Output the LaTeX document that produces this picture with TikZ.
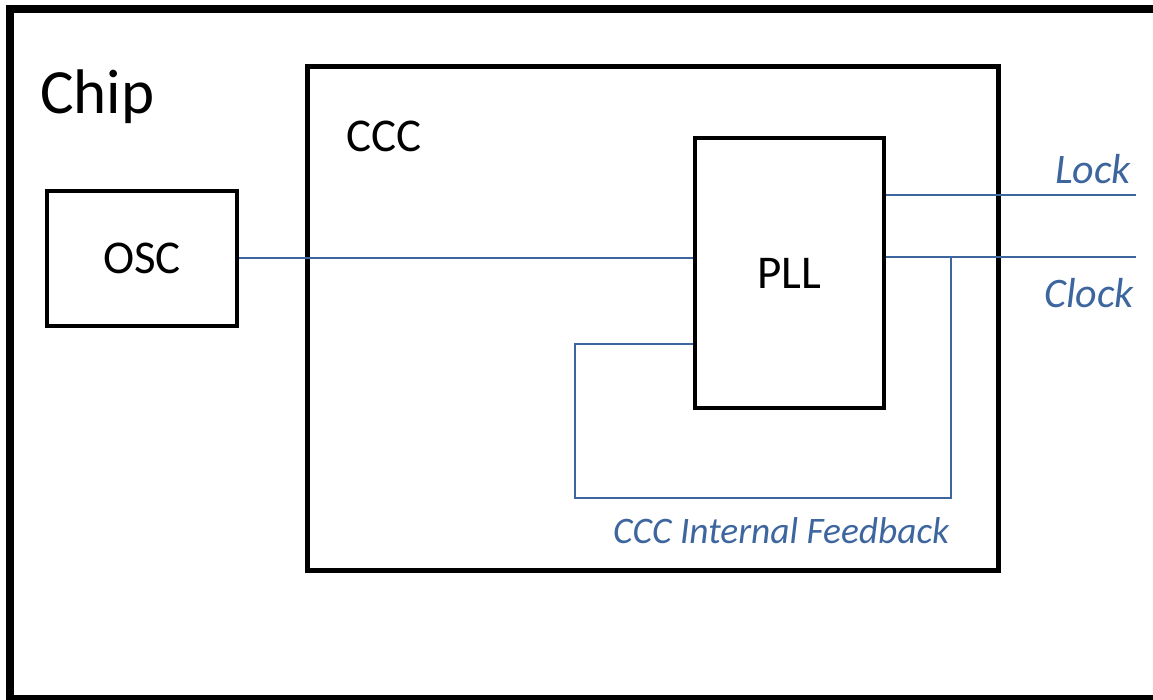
\documentclass[tikz,border=0pt]{standalone}
\usepackage{fontspec}
\setmainfont{Carlito}
\definecolor{wire}{RGB}{62,102,158}
\begin{document}
\begin{tikzpicture}[x=0.5pt,y=-0.5pt,
  blk/.style={draw=black,line width=2pt,fill=none,inner sep=0pt},
  wireline/.style={draw=wire,line width=1.2pt},
  lbl/.style={inner sep=0pt,outer sep=0pt},
  sig/.style={lbl,text=wire,font=\itshape}]
\useasboundingbox (0,0) rectangle (1153,700);
% chip outline (right side open)
\draw[line width=4pt,line join=miter] (1170,9) -- (10,9) -- (10,699) -- (1170,699);
\node[lbl,anchor=base west,font=\fontsize{31.5}{38}\selectfont] (chip) at (40,114) {Chip};
% CCC box
\draw[line width=2.5pt] (307,67) rectangle (998,571);
\node[lbl,anchor=base west,font=\fontsize{23.5}{28}\selectfont] (ccc) at (346,152) {CCC};
% OSC and PLL
\node[blk,minimum width=95pt,minimum height=67.5pt,font=\fontsize{23.5}{28}\selectfont] (osc) at (142,258.5) {OSC};
\node[blk,minimum width=94.5pt,minimum height=135pt,font=\fontsize{23.5}{28}\selectfont] (pll) at (789,273) {PLL};
% coordinates
\coordinate (oscy) at (0,258);
\coordinate (lockend) at (1136,195);
\coordinate (clockend) at (1136,257);
\coordinate (tap) at (951,257);
\coordinate (fbleft) at (575,498);
\coordinate (fbin) at (0,344);
% wires
\draw[wireline] (osc.east |- oscy) -- (pll.west |- oscy);
\draw[wireline] (pll.east |- lockend) -- (lockend);
\draw[wireline] (pll.east |- clockend) -- (clockend);
\draw[wireline] (tap) |- (fbleft) |- (pll.west |- fbin);
% signal labels
\node[sig,anchor=base east,font=\itshape\fontsize{21}{25}\selectfont] (lock) at (1131,184) {Lock};
\node[sig,anchor=base east,font=\itshape\fontsize{21}{25}\selectfont] (clock) at (1134,308) {Clock};
\node[sig,anchor=base west,font=\itshape\fontsize{18.7}{22}\selectfont] (fb) at (613,544) {CCC Internal Feedback};
\end{tikzpicture}
\end{document}
